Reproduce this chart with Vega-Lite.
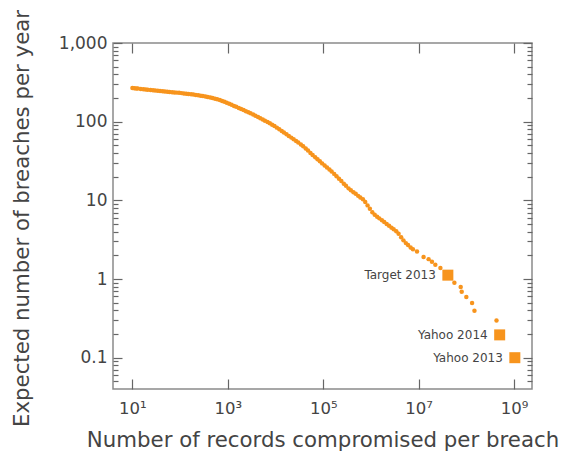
{
  "$schema": "https://vega.github.io/schema/vega-lite/v6.json",
  "autosize": {"type": "none"},
  "padding": {"left": 113, "top": 43, "right": 31, "bottom": 68},
  "width": 419,
  "height": 346,
  "config": {"view": {"stroke": "#8a8a8a", "strokeWidth": 1.5}, "axis": {"grid": false, "domain": false}},
  "datasets": {
    "points": [
      {"records": 10, "rate": 267.9}, {"records": 11, "rate": 266.2}, {"records": 12, "rate": 264.7}, {"records": 13, "rate": 263.3},
      {"records": 15, "rate": 260.8}, {"records": 17, "rate": 258.7}, {"records": 19, "rate": 256.8}, {"records": 21, "rate": 255.1},
      {"records": 24, "rate": 252.9}, {"records": 27, "rate": 251.0}, {"records": 30, "rate": 249.2}, {"records": 34, "rate": 247.3},
      {"records": 38, "rate": 245.6}, {"records": 43, "rate": 243.8}, {"records": 48, "rate": 242.2}, {"records": 54, "rate": 240.5},
      {"records": 60, "rate": 239.0}, {"records": 68, "rate": 237.1}, {"records": 76, "rate": 235.6}, {"records": 85, "rate": 234.1},
      {"records": 95, "rate": 232.5}, {"records": 107, "rate": 230.7}, {"records": 120, "rate": 228.7}, {"records": 135, "rate": 226.7},
      {"records": 150, "rate": 224.9}, {"records": 170, "rate": 222.8}, {"records": 190, "rate": 220.8}, {"records": 214, "rate": 218.6},
      {"records": 240, "rate": 216.4}, {"records": 270, "rate": 214.0}, {"records": 300, "rate": 211.8}, {"records": 340, "rate": 209.0},
      {"records": 380, "rate": 206.2}, {"records": 430, "rate": 203.0}, {"records": 480, "rate": 199.8}, {"records": 540, "rate": 196.2},
      {"records": 600, "rate": 192.7}, {"records": 680, "rate": 188.0}, {"records": 760, "rate": 183.4}, {"records": 850, "rate": 178.6},
      {"records": 950, "rate": 173.7}, {"records": 1070, "rate": 168.6}, {"records": 1200, "rate": 163.6}, {"records": 1350, "rate": 158.7},
      {"records": 1500, "rate": 154.5}, {"records": 1700, "rate": 149.6}, {"records": 1900, "rate": 145.1}, {"records": 2140, "rate": 140.5},
      {"records": 2400, "rate": 136.0}, {"records": 2700, "rate": 131.6}, {"records": 3000, "rate": 127.7}, {"records": 3400, "rate": 123.0},
      {"records": 3800, "rate": 118.9}, {"records": 4300, "rate": 114.5}, {"records": 4800, "rate": 110.6}, {"records": 5400, "rate": 106.5},
      {"records": 6000, "rate": 103.0}, {"records": 6800, "rate": 98.9}, {"records": 7600, "rate": 95.3}, {"records": 8500, "rate": 91.6},
      {"records": 9500, "rate": 87.9}, {"records": 10700, "rate": 84.0}, {"records": 12000, "rate": 80.2}, {"records": 13500, "rate": 76.3},
      {"records": 15000, "rate": 72.9}, {"records": 17000, "rate": 69.1}, {"records": 19000, "rate": 65.9}, {"records": 21400, "rate": 62.7},
      {"records": 24000, "rate": 59.8}, {"records": 27000, "rate": 56.9}, {"records": 30000, "rate": 54.4}, {"records": 34000, "rate": 51.4},
      {"records": 38000, "rate": 48.6}, {"records": 43000, "rate": 45.6}, {"records": 48000, "rate": 42.9}, {"records": 54000, "rate": 40.1},
      {"records": 60000, "rate": 37.8}, {"records": 68000, "rate": 35.3}, {"records": 76000, "rate": 33.2}, {"records": 85000, "rate": 31.3},
      {"records": 95000, "rate": 29.5}, {"records": 107000, "rate": 27.8}, {"records": 120000, "rate": 26.2}, {"records": 135000, "rate": 24.6},
      {"records": 150000, "rate": 23.3}, {"records": 170000, "rate": 21.7}, {"records": 190000, "rate": 20.3}, {"records": 214000, "rate": 18.8},
      {"records": 240000, "rate": 17.6}, {"records": 270000, "rate": 16.3}, {"records": 300000, "rate": 15.3}, {"records": 340000, "rate": 14.2},
      {"records": 380000, "rate": 13.4}, {"records": 430000, "rate": 12.7}, {"records": 480000, "rate": 12.1}, {"records": 540000, "rate": 11.4},
      {"records": 600000, "rate": 10.9}, {"records": 680000, "rate": 10.3}, {"records": 760000, "rate": 9.5}, {"records": 850000, "rate": 8.63},
      {"records": 950000, "rate": 7.82}, {"records": 1070000, "rate": 7.05}, {"records": 1200000, "rate": 6.55}, {"records": 1350000, "rate": 6.2},
      {"records": 1500000, "rate": 5.9}, {"records": 1700000, "rate": 5.57}, {"records": 1900000, "rate": 5.29}, {"records": 2140000, "rate": 5.0},
      {"records": 2400000, "rate": 4.75}, {"records": 2700000, "rate": 4.5}, {"records": 3000000, "rate": 4.3}, {"records": 3400000, "rate": 4.06},
      {"records": 3800000, "rate": 3.76}, {"records": 4300000, "rate": 3.4}, {"records": 4800000, "rate": 3.1}, {"records": 5400000, "rate": 2.86},
      {"records": 6000000, "rate": 2.7}, {"records": 6800000, "rate": 2.51}, {"records": 7600000, "rate": 2.39}, {"records": 9250000, "rate": 2.24},
      {"records": 12700000, "rate": 1.91}, {"records": 16200000, "rate": 1.79}, {"records": 19000000, "rate": 1.66}, {"records": 22400000, "rate": 1.52},
      {"records": 28600000, "rate": 1.38}, {"records": 41000000, "rate": 1.12}, {"records": 56200000, "rate": 0.897}, {"records": 76200000, "rate": 0.791},
      {"records": 80000000, "rate": 0.689}, {"records": 100000000, "rate": 0.59}, {"records": 132000000, "rate": 0.495}, {"records": 148000000, "rate": 0.395},
      {"records": 429000000, "rate": 0.297},
      {"name": "Target 2013", "records": 41000000, "rate": 1.12},
      {"name": "Yahoo 2014", "records": 500000000, "rate": 0.195},
      {"name": "Yahoo 2013", "records": 1040000000, "rate": 0.1}
    ],
    "breaches": [
      {"name": "Target 2013", "records": 41000000, "rate": 1.12},
      {"name": "Yahoo 2014", "records": 500000000, "rate": 0.195},
      {"name": "Yahoo 2013", "records": 1040000000, "rate": 0.1}
    ]
  },
  "resolve": {"scale": {"x": "independent", "y": "independent"}, "axis": {"x": "independent", "y": "independent"}},
  "layer": [
    {
      "data": {"name": "points"},
      "mark": {"type": "point", "filled": true, "opacity": 1, "color": "#F7941D", "strokeWidth": 0},
      "encoding": {
        "shape": {"condition": {"test": "isValid(datum.name)", "value": "square"}, "value": "circle"},
        "size": {"condition": {"test": "isValid(datum.name)", "value": 121}, "value": 20},
        "x": {
          "field": "records", "type": "quantitative",
          "scale": {"type": "log", "domain": [3.92, 2380000000], "nice": false},
          "axis": {
            "orient": "bottom", "values": [10, 1000, 100000, 10000000, 1000000000], "zindex": 2,
            "labelExpr": "'10' + ['⁰','¹','²','³','⁴','⁵','⁶','⁷','⁸','⁹'][round(log(datum.value)/LN10)]",
            "tickSize": -10, "tickColor": "#666666", "tickWidth": 1.2, "tickOpacity": 1, "labelPadding": 34, "labelBaseline": "alphabetic",
            "labelFont": "DejaVu Sans", "labelFontSize": 16.5, "labelColor": "#444", "labelFlush": false,
            "title": "Number of records compromised per breach", "titleFont": "DejaVu Sans", "titleFontSize": 21.3, "titleFontWeight": "normal",
            "titleColor": "#444", "titleX": 209.5, "titleY": 57, "titleBaseline": "alphabetic", "titleAlign": "center"
          }
        },
        "y": {
          "field": "rate", "type": "quantitative",
          "scale": {"type": "log", "domain": [0.04, 1000], "nice": false},
          "axis": {
            "orient": "left", "zindex": 2,
            "values": [0.05, 0.06, 0.07, 0.08, 0.09, 0.1, 0.2, 0.3, 0.4, 0.5, 0.6, 0.7, 0.8, 0.9, 1, 2, 3, 4, 5, 6, 7, 8, 9, 10, 20, 30, 40, 50, 60, 70, 80, 90, 100, 200, 300, 400, 500, 600, 700, 800, 900, 1000],
            "labelExpr": "indexof([0.1, 1, 10, 100, 1000], datum.value) >= 0 ? format(datum.value, ',~g') : ''",
            "tickColor": "#666666", "tickWidth": 1.2, "tickOpacity": 1,
            "tickSize": {"condition": {"test": "indexof([0.1, 1, 10, 100, 1000], datum.value) >= 0", "value": -9}, "value": -5},
            "labelPadding": 15, "labelFont": "DejaVu Sans", "labelFontSize": 17, "labelColor": "#444", "labelFlush": false,
            "title": "Expected number of breaches per year", "titleFont": "DejaVu Sans", "titleFontSize": 21.3, "titleFontWeight": "normal",
            "titleColor": "#444", "titleX": -85, "titleY": 175, "titleBaseline": "alphabetic", "titleAlign": "center", "titleAngle": -90
          }
        }
      }
    },
    {
      "data": {"name": "breaches"},
      "mark": {"type": "text", "align": "right", "baseline": "middle", "dx": -12, "fontSize": 12, "color": "#444", "font": "DejaVu Sans"},
      "encoding": {
        "text": {"field": "name"},
        "x": {
          "field": "records", "type": "quantitative",
          "scale": {"type": "log", "domain": [3.92, 2380000000], "nice": false},
          "axis": {"orient": "top", "zindex": 2, "values": [10, 1000, 100000, 10000000, 1000000000], "tickSize": -10, "tickColor": "#666666", "tickWidth": 1.2, "tickOpacity": 1, "labels": false, "title": null}
        },
        "y": {
          "field": "rate", "type": "quantitative",
          "scale": {"type": "log", "domain": [0.04, 1000], "nice": false},
          "axis": {
            "orient": "right", "zindex": 2,
            "values": [0.05, 0.06, 0.07, 0.08, 0.09, 0.1, 0.2, 0.3, 0.4, 0.5, 0.6, 0.7, 0.8, 0.9, 1, 2, 3, 4, 5, 6, 7, 8, 9, 10, 20, 30, 40, 50, 60, 70, 80, 90, 100, 200, 300, 400, 500, 600, 700, 800, 900, 1000],
            "tickColor": "#666666", "tickWidth": 1.2, "tickOpacity": 1, "labels": false, "title": null,
            "tickSize": {"condition": {"test": "indexof([0.1, 1, 10, 100, 1000], datum.value) >= 0", "value": -9}, "value": -5}
          }
        }
      }
    }
  ]
}
